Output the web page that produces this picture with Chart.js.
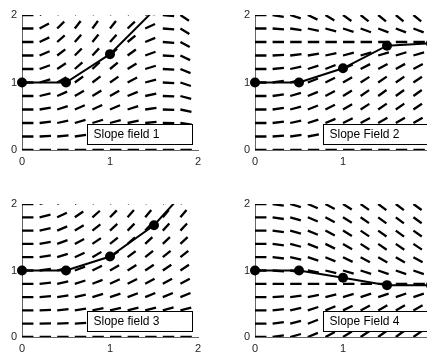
<!DOCTYPE html>
<html>
<head>
<meta charset="utf-8">
<script src="https://cdn.jsdelivr.net/npm/chart.js@4.4.1/dist/chart.umd.min.js"></script>
<style>
html, body { margin: 0; padding: 0; background: #fff; overflow: hidden; width: 427px; height: 354px; position: relative; }
canvas { position: absolute; }
</style>
</head>
<body>
<canvas id="c1" width="213" height="177" style="left:0px;top:0px"></canvas>
<canvas id="c2" width="213" height="177" style="left:233px;top:0px"></canvas>
<canvas id="c3" width="213" height="175" style="left:0px;top:189px"></canvas>
<canvas id="c4" width="213" height="175" style="left:233px;top:189px"></canvas>
<script>
// grid of the slope fields
const xGrid = [0, 0.2, 0.4, 0.6, 0.8, 1.0, 1.2, 1.4, 1.6, 1.8];
const yGrid = [0, 0.2, 0.4, 0.6, 0.8, 1.0, 1.2, 1.4, 1.6, 1.8, 2.0];
const tickValues = [0, 1, 2];

// slopes, one row per y value
const slopes1 = [
  [0, 0, 0, 0, 0, 0, 0, 0, 0, 0],
  [0, 0.08, 0.14, 0.19, 0.20, 0.18, 0.14, 0.07, -0.01, -0.09],
  [0, 0.16, 0.29, 0.37, 0.40, 0.36, 0.27, 0.13, -0.02, -0.18],
  [0, 0.23, 0.43, 0.56, 0.60, 0.55, 0.41, 0.20, -0.04, -0.27],
  [0, 0.31, 0.57, 0.75, 0.80, 0.73, 0.54, 0.27, -0.05, -0.35],
  [0, 0.39, 0.72, 0.93, 1.00, 0.91, 0.68, 0.34, -0.06, -0.44],
  [0, 0.47, 0.86, 1.12, 1.20, 1.09, 0.81, 0.40, -0.07, -0.53],
  [0, 0.55, 1.00, 1.30, 1.40, 1.27, 0.95, 0.47, -0.08, -0.62],
  [0, 0.62, 1.15, 1.49, 1.60, 1.45, 1.08, 0.54, -0.09, -0.71],
  [0, 0.70, 1.29, 1.68, 1.80, 1.64, 1.22, 0.60, -0.11, -0.80],
  [0, 0.78, 1.43, 1.86, 2.00, 1.82, 1.35, 0.67, -0.12, -0.88]
];
const slopes2 = [
  [0, 0, 0, 0, 0, 0, 0, 0, 0, 0],
  [0, 0.09, 0.18, 0.25, 0.32, 0.38, 0.42, 0.44, 0.45, 0.44],
  [0, 0.15, 0.29, 0.42, 0.54, 0.63, 0.70, 0.74, 0.75, 0.73],
  [0, 0.18, 0.35, 0.51, 0.65, 0.76, 0.84, 0.89, 0.90, 0.88],
  [0, 0.19, 0.37, 0.54, 0.68, 0.80, 0.89, 0.94, 0.95, 0.93],
  [0, 0.18, 0.35, 0.51, 0.65, 0.76, 0.84, 0.89, 0.90, 0.88],
  [0, 0.14, 0.28, 0.41, 0.52, 0.61, 0.67, 0.71, 0.72, 0.70],
  [0, 0.08, 0.16, 0.23, 0.29, 0.34, 0.37, 0.39, 0.40, 0.39],
  [0, 0, 0, 0, 0, 0, 0, 0, 0, 0],
  [0, -0.10, -0.19, -0.28, -0.36, -0.42, -0.47, -0.49, -0.50, -0.49],
  [0, -0.22, -0.43, -0.62, -0.79, -0.93, -1.03, -1.08, -1.10, -1.07]
];
const slopes3 = [
  [0, 0, 0, 0, 0, 0, 0, 0, 0, 0],
  [0, 0.04, 0.07, 0.10, 0.13, 0.15, 0.17, 0.18, 0.18, 0.18],
  [0, 0.07, 0.14, 0.20, 0.26, 0.30, 0.34, 0.35, 0.36, 0.35],
  [0, 0.11, 0.21, 0.30, 0.39, 0.45, 0.50, 0.53, 0.54, 0.53],
  [0, 0.14, 0.28, 0.41, 0.52, 0.61, 0.67, 0.71, 0.72, 0.70],
  [0, 0.18, 0.35, 0.51, 0.65, 0.76, 0.84, 0.89, 0.90, 0.88],
  [0, 0.21, 0.42, 0.61, 0.78, 0.91, 1.01, 1.06, 1.08, 1.05],
  [0, 0.25, 0.49, 0.71, 0.90, 1.06, 1.17, 1.24, 1.26, 1.23],
  [0, 0.29, 0.56, 0.81, 1.03, 1.21, 1.34, 1.42, 1.44, 1.40],
  [0, 0.32, 0.63, 0.91, 1.16, 1.36, 1.51, 1.60, 1.62, 1.58],
  [0, 0.36, 0.70, 1.02, 1.29, 1.51, 1.68, 1.77, 1.80, 1.75]
];
const slopes4 = [
  [0, 0.19, 0.37, 0.54, 0.69, 0.81, 0.89, 0.95, 0.96, 0.93],
  [0, 0.18, 0.35, 0.51, 0.65, 0.77, 0.85, 0.90, 0.91, 0.89],
  [0, 0.15, 0.30, 0.43, 0.55, 0.64, 0.71, 0.75, 0.76, 0.74],
  [0, 0.09, 0.18, 0.26, 0.33, 0.39, 0.43, 0.45, 0.46, 0.45],
  [0, 0, 0, 0, 0, 0, 0, 0, 0, 0],
  [0, -0.09, -0.18, -0.26, -0.33, -0.39, -0.43, -0.45, -0.46, -0.45],
  [0, -0.15, -0.30, -0.43, -0.55, -0.64, -0.71, -0.75, -0.76, -0.74],
  [0, -0.18, -0.35, -0.51, -0.65, -0.77, -0.85, -0.90, -0.91, -0.89],
  [0, -0.19, -0.37, -0.54, -0.69, -0.81, -0.89, -0.95, -0.96, -0.93],
  [0, -0.20, -0.39, -0.56, -0.71, -0.83, -0.92, -0.98, -0.99, -0.96],
  [0, -0.20, -0.39, -0.56, -0.72, -0.84, -0.93, -0.99, -1.00, -0.97]
];

// Euler steps
const eulerX = [0, 0.5, 1, 1.5, 2];
const euler1 = [1, 1, 1.42, 2.07, 2.22];
const euler2 = [1, 1, 1.21, 1.545, 1.58];
const euler3 = [1, 1, 1.21, 1.68, 2.41];
const euler4 = [1, 1, 0.89, 0.78, 0.78];

const boxLabels = ['Slope field 1', 'Slope Field 2', 'Slope field 3', 'Slope Field 4'];

const DASH = 0.13;
const FONT = '"Liberation Sans", Arial, sans-serif';

function dashData(slopes) {
  const pts = [];
  yGrid.forEach((y, i) => {
    xGrid.forEach((x, j) => {
      const s = slopes[i][j];
      const dx = DASH / Math.sqrt(1 + s * s);
      pts.push({x: x, y: y}, {x: x + dx, y: y + s * dx}, {x: x, y: null});
    });
  });
  return pts;
}

// white box with the field name
const textBox = {
  id: 'textBox',
  afterDatasetsDraw(chart, args, opts) {
    const a = chart.chartArea, ctx = chart.ctx;
    const left = Math.round(a.left + opts.offset) + 0.5;
    const top = Math.round(a.bottom - 26) + 0.5;
    ctx.save();
    ctx.fillStyle = '#fff';
    ctx.strokeStyle = '#000';
    ctx.lineWidth = 1;
    ctx.fillRect(left, top, 105, 20);
    ctx.strokeRect(left, top, 105, 20);
    ctx.fillStyle = '#000';
    ctx.font = '12px ' + FONT;
    ctx.textBaseline = 'middle';
    ctx.fillText(opts.text, left + 6, top + 10.5);
    ctx.restore();
  }
};

function axis(isX) {
  return {
    type: 'linear', min: 0, max: 2,
    afterBuildTicks: s => { s.ticks = tickValues.map(v => ({value: v})); },
    afterFit: s => { if (isX) s.height = 27; else s.width = 22; },
    grid: {display: false, drawTicks: false},
    border: {display: true, color: '#666', width: 1},
    ticks: {color: '#262626', font: {family: FONT, size: 11}, padding: 5, maxRotation: 0}
  };
}

function makeChart(id, slopes, ys, label, offset) {
  new Chart(document.getElementById(id), {
    type: 'scatter',
    data: {
      datasets: [
        {
          data: eulerX.map((x, i) => ({x: x, y: ys[i]})),
          showLine: true, borderColor: '#000', borderWidth: 2,
          pointRadius: 5, pointHoverRadius: 5, pointBackgroundColor: '#000', pointBorderWidth: 0,
          clip: {left: 8, top: 0, right: 0, bottom: 8}
        },
        {
          data: dashData(slopes),
          showLine: true, spanGaps: false, borderColor: '#000', borderWidth: 2.3,
          pointRadius: 0, pointHoverRadius: 0
        }
      ]
    },
    options: {
      responsive: false, animation: false, devicePixelRatio: 1, events: [],
      layout: {padding: {top: 15, right: 15, left: 0, bottom: 0}},
      plugins: {legend: {display: false}, tooltip: {enabled: false}, textBox: {text: label, offset: offset}},
      scales: {x: axis(true), y: axis(false)}
    },
    plugins: [textBox]
  });
}

makeChart('c1', slopes1, euler1, boxLabels[0], 65);
makeChart('c2', slopes2, euler2, boxLabels[1], 68);
makeChart('c3', slopes3, euler3, boxLabels[2], 65);
makeChart('c4', slopes4, euler4, boxLabels[3], 68);
</script>
</body>
</html>
